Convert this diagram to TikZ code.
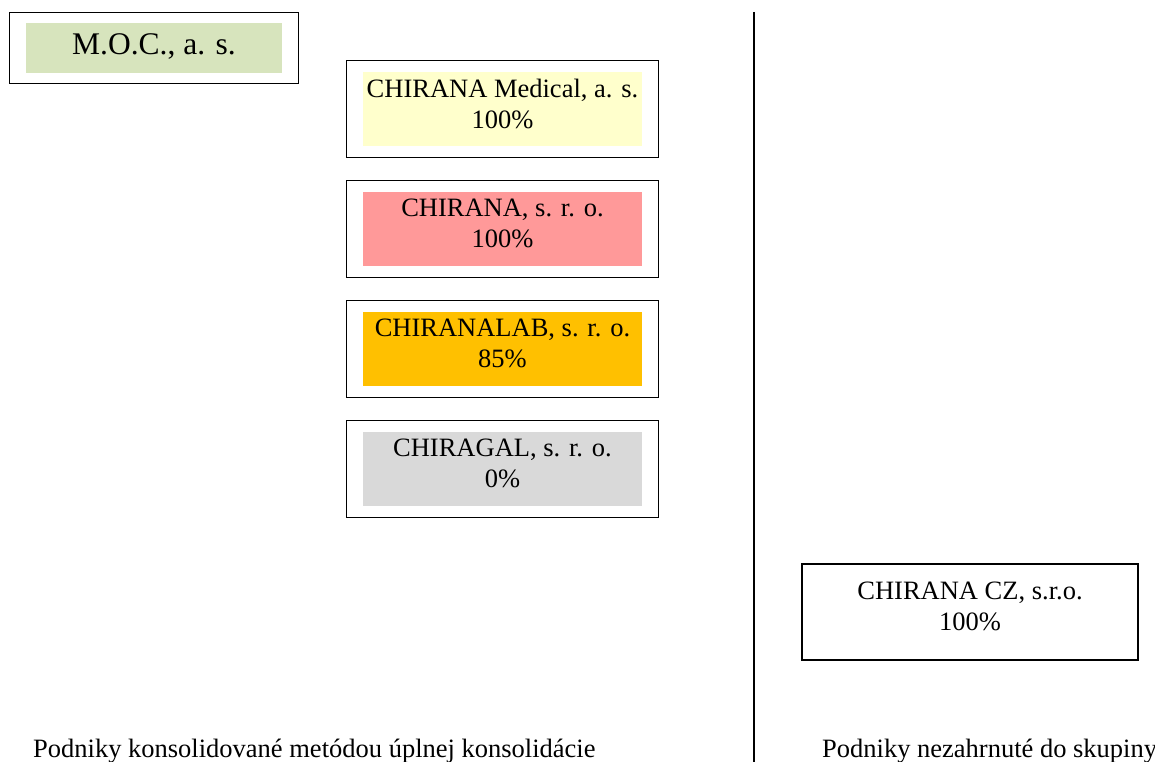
\documentclass[tikz,border=0pt]{standalone}
\usepackage{fontspec}
\setmainfont{Liberation Serif}
\usetikzlibrary{positioning, fit}
\definecolor{mocgreen}{RGB}{215,228,189}
\definecolor{medyellow}{RGB}{255,255,204}
\definecolor{chirred}{RGB}{255,153,153}
\definecolor{laborange}{RGB}{255,192,0}
\definecolor{galgrey}{RGB}{217,217,217}

\begin{document}
\begin{tikzpicture}[x=1bp, y=-1bp]
  \tikzset{
    company/.style={
      fill=#1, minimum width=279bp, minimum height=74bp, inner sep=0pt,
      align=center, font=\fontsize{26.5bp}{31bp}\selectfont
    },
    frame/.style={draw, line width=1.3bp, inner xsep=16.5bp, inner ysep=11bp},
    caption/.style={anchor=base west, inner sep=0pt, font=\fontsize{26.5bp}{30bp}\selectfont}
  }
  \useasboundingbox (0,0) rectangle (1155,762);
  \clip (0,0) rectangle (1155,762);

  % Parent company
  \node[company=mocgreen, minimum width=256bp, minimum height=50bp,
        font=\fontsize{31.5bp}{34bp}\selectfont] (moc) at (154,48) {M.O.C., a. s.\strut};
  \node[frame, inner xsep=16bp, inner ysep=10.5bp] (moc-frame) [fit=(moc)] {};

  % Column of subsidiaries consolidated in full
  \foreach \name/\col/\txt/\pct [count=\i] in {
      medical/medyellow/{CHIRANA Medical, a. s.}/100\%,
      chirana/chirred/{CHIRANA, s. r. o.}/100\%,
      lab/laborange/{CHIRANALAB, s. r. o.}/85\%,
      chiragal/galgrey/{CHIRAGAL, s. r. o.}/0\%} {
    \node[company=\col] (\name) at (502.5, 109+120*\i-120) {\txt\\\pct\\[-20bp]};
    \node[frame] (\name-frame) [fit=(\name)] {};
  }

  % Company outside the group
  \node[draw, line width=1.3bp, minimum width=336bp, minimum height=96bp,
        align=center, font=\fontsize{26.5bp}{31bp}\selectfont] (cz) at (970,612)
        {CHIRANA CZ, s.r.o.\\100\%\\[-20bp]};

  % Divider between the two groups
  \coordinate (div-top) at (754,12);
  \coordinate (div-bottom) at (754,762);
  \draw[line width=1.3bp] (div-top) -- (div-bottom);

  % Captions
  \node[caption] (cap-left) at (33,757) {Podniky konsolidované metódou úplnej konsolidácie};
  \node[caption] (cap-right) at (822,757) {Podniky nezahrnuté do skupiny};
\end{tikzpicture}
\end{document}
